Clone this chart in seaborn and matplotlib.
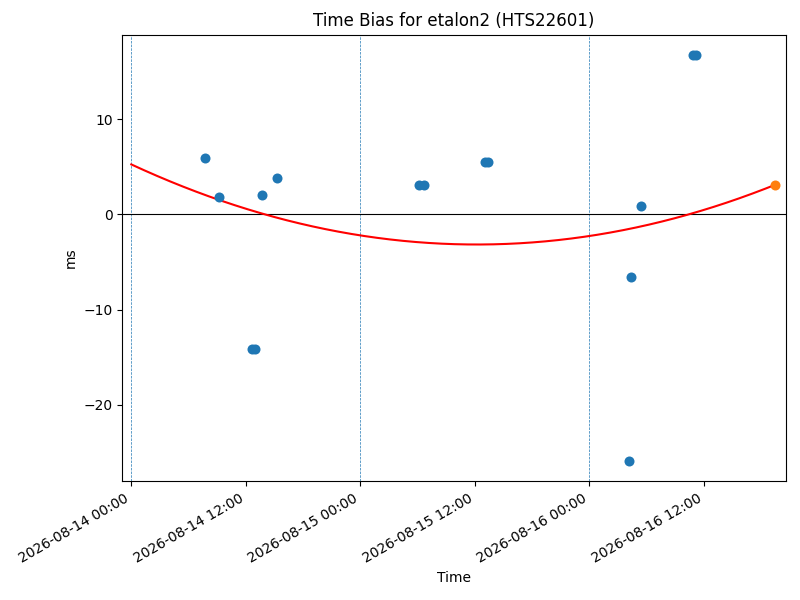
import numpy as np
import pandas as pd
import matplotlib
matplotlib.use('Agg')
import matplotlib.pyplot as plt
import matplotlib.dates as mdates
import seaborn as sns

# measured time bias samples (ms)
obs_times = ['2026-08-14 07:46', '2026-08-14 09:13', '2026-08-14 12:42', '2026-08-14 13:00',
             '2026-08-14 13:44', '2026-08-14 15:16', '2026-08-15 06:09', '2026-08-15 06:41',
             '2026-08-15 13:04', '2026-08-15 13:26', '2026-08-16 04:11', '2026-08-16 04:24',
             '2026-08-16 05:27', '2026-08-16 10:52', '2026-08-16 11:12']
obs_bias = [5.9, 1.8, -14.1, -14.1, 2.0, 3.8, 3.05, 3.05, 5.47, 5.47, -25.9, -6.6, 0.85, 16.75, 16.75]

# latest (predicted) point
last_time = ['2026-08-16 19:28']
last_bias = [3.05]

# quadratic fit, coefficients in hours from fit start
fit_start = '2026-08-14 00:00'
fit_end = '2026-08-16 19:28'
fit_coeffs = [0.006417, -0.4648, 5.26]

day_marks = ['2026-08-14', '2026-08-15', '2026-08-16']
x_limits = ['2026-08-13 23:04', '2026-08-16 20:35']

obs = pd.DataFrame({'Time': pd.to_datetime(obs_times), 'ms': obs_bias})
last = pd.DataFrame({'Time': pd.to_datetime(last_time), 'ms': last_bias})

t0 = pd.Timestamp(fit_start)
fit_t = pd.date_range(t0, pd.Timestamp(fit_end), periods=200)
hours = (fit_t - t0).total_seconds() / 3600
fit = pd.DataFrame({'Time': fit_t, 'ms': np.polyval(fit_coeffs, hours)})

fig, ax = plt.subplots(figsize=(8, 6), dpi=100)

for d in day_marks:
    ax.axvline(pd.Timestamp(d), color='tab:blue', linestyle='--', linewidth=0.5)
ax.axhline(0, color='black', linewidth=0.8)

sns.lineplot(data=fit, x='Time', y='ms', color='red', linewidth=1.5, ax=ax)
# points drawn above the fit curve
sns.scatterplot(data=obs, x='Time', y='ms', color='tab:blue', s=52, linewidth=0, zorder=3, ax=ax)
sns.scatterplot(data=last, x='Time', y='ms', color='tab:orange', s=52, linewidth=0, zorder=3, ax=ax)

ax.set_xlim(pd.Timestamp(x_limits[0]), pd.Timestamp(x_limits[1]))
ax.xaxis.set_major_locator(mdates.HourLocator(byhour=[0, 12]))
ax.xaxis.set_major_formatter(mdates.DateFormatter('%Y-%m-%d %H:%M'))
ax.set_title('Time Bias for etalon2 (HTS22601)')
ax.set_xlabel('Time')
ax.set_ylabel('ms')
fig.autofmt_xdate()
fig.subplots_adjust(left=0.153, right=0.982, top=0.942, bottom=0.198)
fig.savefig('out.png', dpi=100)
